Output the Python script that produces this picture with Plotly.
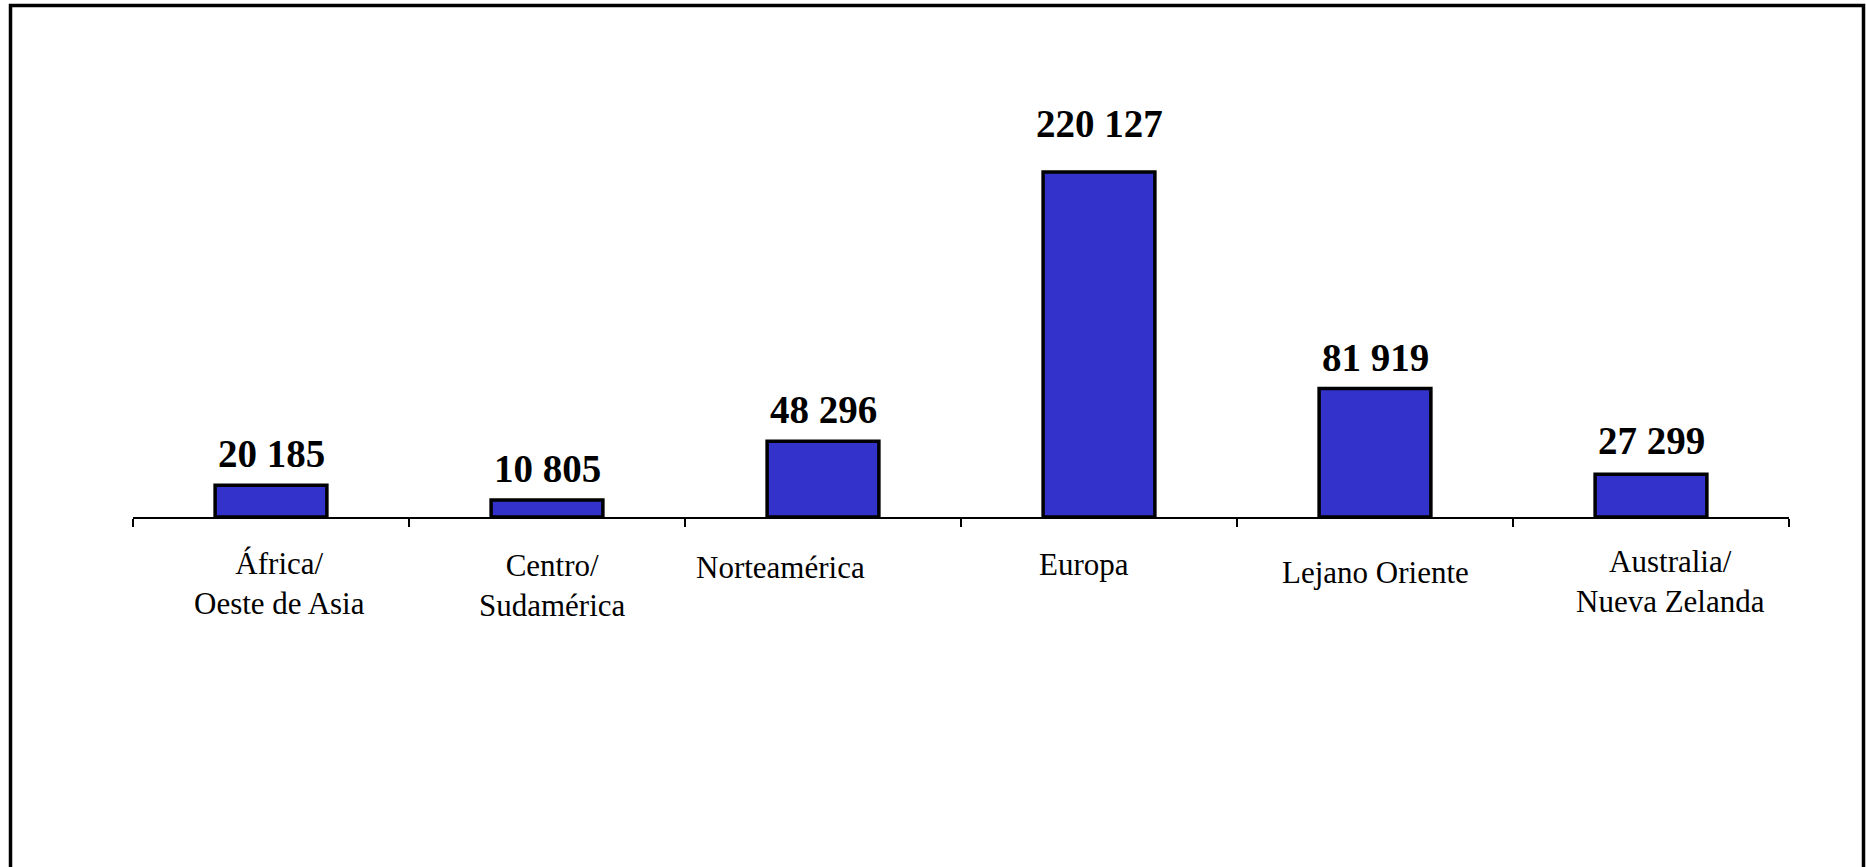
import plotly.graph_objects as go

# ---- data ----
categories = [
    "África/<br>Oeste de Asia",
    "Centro/<br>Sudamérica",
    "Norteamérica",
    "Europa",
    "Lejano Oriente",
    "Australia/<br>Nueva Zelanda",
]
values = [20185, 10805, 48296, 220127, 81919, 27299]

# ---- style (label offsets in px) ----
label_xshift = [8, 5, -43, -15, 0, 19]
label_yshift = [-27, -28.5, -31, -28, -36, -25]
value_yshift = [8, 8, 8, 25, 8, 10]

W, H = 1866, 867
ML, MR, MT, MB = 133, 77, 97, 350
PW, PH = W - ML - MR, H - MT - MB

def px_to_paper_x(px):
    return (px - ML) / PW

def px_to_paper_y(py):
    return (H - MB - py) / PH

fig = go.Figure()
fig.add_trace(go.Bar(
    x=categories,
    y=values,
    width=0.405,
    marker=dict(color="#3333CC", line=dict(color="black", width=3.5)),
    hoverinfo="skip",
))

# value labels
for c, v, dy in zip(categories, values, value_yshift):
    fig.add_annotation(
        x=c, y=v, xref="x", yref="y",
        text=f"{v:,}".replace(",", " "),
        showarrow=False, yanchor="bottom", xanchor="center", yshift=dy,
        font=dict(family="Liberation Serif", size=39, color="black", weight="bold"),
    )

# category labels
for c, dx, dy in zip(categories, label_xshift, label_yshift):
    fig.add_annotation(
        x=c, y=0, xref="x", yref="y",
        text=c, showarrow=False, yanchor="top", xanchor="center",
        xshift=dx, yshift=dy, align="center",
        font=dict(family="Liberation Serif", size=31, color="black"),
    )

# outer frame
fig.add_shape(
    type="rect", xref="paper", yref="paper",
    x0=px_to_paper_x(10.5), x1=px_to_paper_x(1863.5),
    y0=px_to_paper_y(H + 20), y1=px_to_paper_y(5.5),
    line=dict(color="black", width=3.5), fillcolor="rgba(0,0,0,0)", layer="below",
)

fig.update_layout(
    width=W, height=H,
    margin=dict(l=ML, r=MR, t=MT, b=MB, pad=0),
    paper_bgcolor="white", plot_bgcolor="white",
    showlegend=False,
    font=dict(family="Liberation Serif", color="black"),
    xaxis=dict(
        type="category", range=[-0.5, len(categories) - 0.5],
        showticklabels=False, tickson="boundaries", ticks="outside",
        ticklen=8, tickwidth=1.5, tickcolor="black",
        showline=True, linecolor="black", linewidth=1.5,
        showgrid=False, zeroline=False, fixedrange=True,
    ),
    yaxis=dict(
        range=[0, 268000], visible=False, showgrid=False, zeroline=False,
        fixedrange=True,
    ),
)

fig.write_html("out.html", config={"displayModeBar": False})
